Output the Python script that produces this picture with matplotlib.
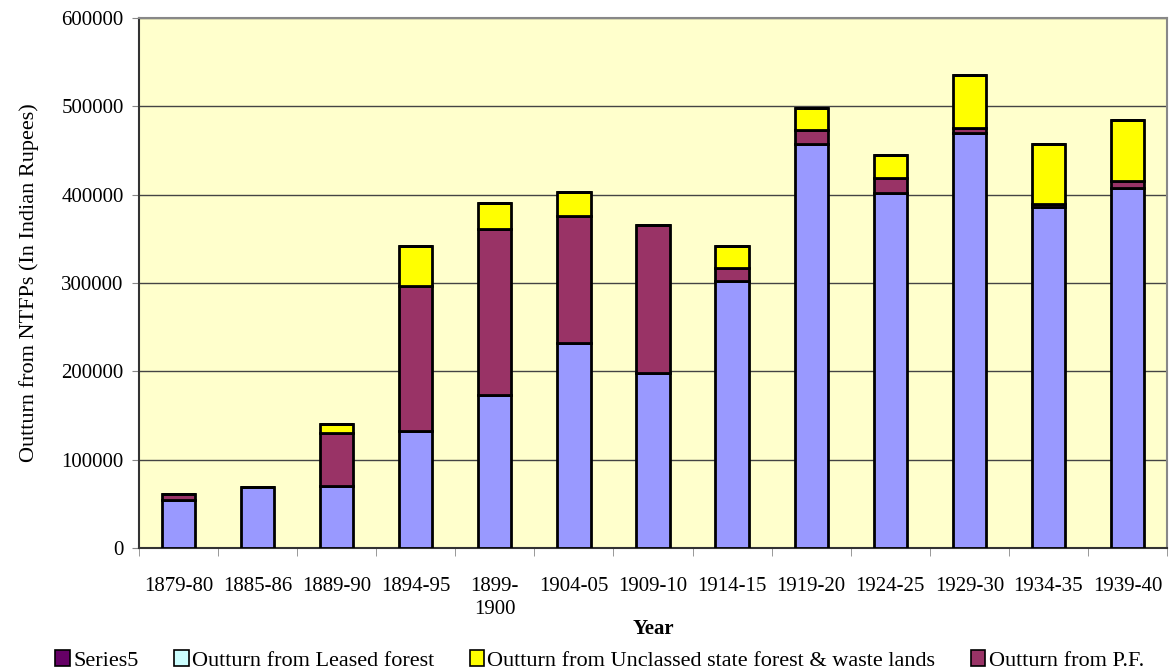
# Stacked column chart of NTFP outturn, 1879-80 to 1939-40

import numpy as np
import matplotlib.pyplot as plt
from matplotlib.patches import Patch

plt.rcParams['font.family'] = ['Liberation Serif', 'DejaVu Serif']

years = ['1879-80', '1885-86', '1889-90', '1894-95', '1899-\n1900', '1904-05',
         '1909-10', '1914-15', '1919-20', '1924-25', '1929-30', '1934-35', '1939-40']

# series in stacking order, bottom to top
base = [54000, 69000, 70000, 132000, 173000, 232000, 198000, 302000, 457000,
        402000, 470000, 386000, 407000]
pf = [7000, 0, 60000, 165000, 188000, 144000, 168000, 15000, 16000, 17000,
      5000, 3000, 9000]
unclassed = [0, 0, 10000, 45000, 30000, 27000, 0, 25000, 25000, 26000,
             60000, 68000, 69000]
leased = [0] * 13
series5 = [0] * 13

names = ['', 'Outturn from P.F.', 'Outturn from Unclassed state forest & waste lands',
         'Outturn from Leased forest', 'Series5']
colors = ['#9999FF', '#993366', '#FFFF00', '#CCFFFF', '#660066']

fig = plt.figure(figsize=(11.69, 6.72), dpi=100)
ax = fig.add_axes([0.1189, 0.1845, 0.8794, 0.7887])
ax.set_facecolor('#FFFFCC')

x = np.arange(len(years))
bottom = np.zeros(len(years))
for vals, c in zip([base, pf, unclassed, leased, series5], colors):
    vals = np.array(vals, dtype=float)
    ax.bar(x, vals, 0.42, bottom=bottom, color=c, edgecolor='black',
           linewidth=2, zorder=3)
    bottom += vals

ax.set_xlim(-0.5, len(years) - 0.5)
ax.set_ylim(0, 600000)
ax.set_yticks(range(0, 600001, 100000))
ax.yaxis.grid(True, color='#444444', linewidth=1, zorder=1)

ax.set_xticks(x)
ax.set_xticklabels(years, fontsize=15, linespacing=1.3)
ax.set_xticks(np.arange(-0.5, len(years), 1), minor=True)
ax.tick_params(axis='x', which='major', length=0, pad=21)
ax.tick_params(axis='x', which='minor', length=6, color='#888888')
ax.tick_params(axis='y', labelsize=15, length=5, color='#888888', pad=6)

for s in ['top', 'right']:
    ax.spines[s].set_color('#888888')
    ax.spines[s].set_linewidth(1.5)
for s in ['left', 'bottom']:
    ax.spines[s].set_color('#333333')
    ax.spines[s].set_linewidth(1.5)

ax.set_xlabel('Year', fontsize=15, fontweight='bold', labelpad=0)
ax.set_ylabel('Outturn from NTFPs (In Indian Rupees)', fontsize=16, labelpad=16)

handles = [Patch(facecolor=colors[i], edgecolor='black', linewidth=1.2)
           for i in [4, 3, 2, 1]]
labels = [names[i] for i in [4, 3, 2, 1]]
fig.legend(handles, labels, loc='lower center', ncol=4, frameon=False,
           fontsize=16, bbox_to_anchor=(0.513, -0.028), handlelength=0.65,
           handleheight=0.75, handletextpad=0.15, columnspacing=1.6)

fig.savefig('out.png', dpi=100)
